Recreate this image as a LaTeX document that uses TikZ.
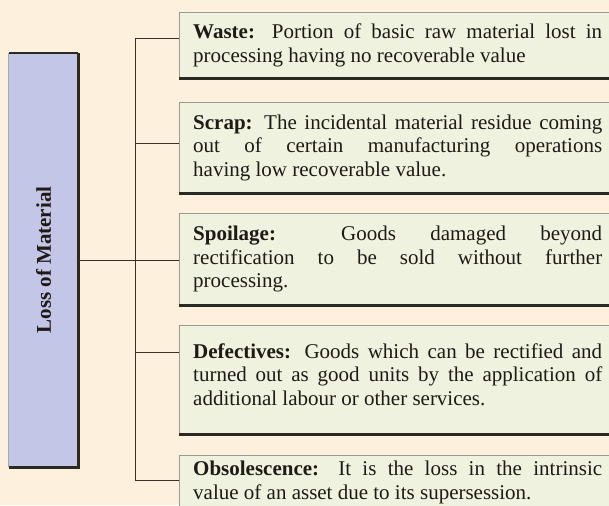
\documentclass[tikz,border=0pt]{standalone}
\usepackage{graphicx}
\usepackage{fontspec}
\setmainfont{Liberation Serif}
\definecolor{paper}{HTML}{FDF1DE}
\definecolor{lav}{HTML}{C4C6E7}
\definecolor{cardfill}{HTML}{EEF2DF}
\definecolor{wire}{HTML}{3A2E26}
\definecolor{rim}{HTML}{9A9A90}
\definecolor{shadowline}{HTML}{2A2A22}
\definecolor{ink}{HTML}{1E1A16}
\tikzset{
  card/.style={rectangle, fill=cardfill, anchor=north west, inner xsep=14pt,
    inner ysep=0pt, text width=409pt, align=justify, text=ink,
    font=\fontsize{21}{23.5}\selectfont},
  cardrim/.style={draw=rim, line width=0.8pt},
  cardbase/.style={draw=shadowline, line width=3pt},
  wirestyle/.style={draw=wire, line width=0.9pt},
}
\begin{document}
\begin{tikzpicture}[x=1pt,y=-1pt]
\useasboundingbox (0,0) rectangle (609,505);
\clip (0,0) rectangle (609,505);
\fill[paper] (0,0) rectangle (609,505);

% category column
\node[rectangle, fill=lav, minimum width=69pt, minimum height=414pt, inner sep=0pt, text=ink]
  (main) at (43.5,260)
  {\rotatebox{90}{\fontsize{21}{23}\selectfont\bfseries Loss of Material}};
\draw[draw=rim!70!lav, line width=0.8pt] (main.south west) -- (main.north west);
\draw[draw=shadowline, line width=1.6pt] (main.north west) -- (main.north east);
\draw[draw=shadowline, line width=3pt] (main.north east) -- (main.south east) -- (main.south west);

% definition cards
\node[card, minimum height=66pt] (waste) at (179,12)
  {\textbf{Waste:} Portion of basic raw material lost in\linebreak
   processing having no recoverable value};
\node[card, minimum height=91pt] (scrap) at (179,102)
  {\textbf{Scrap:} The incidental material residue coming\linebreak
   out of certain manufacturing operations\linebreak
   having low recoverable value.};
\node[card, minimum height=92pt] (spoil) at (179,213)
  {\textbf{Spoilage:} Goods damaged beyond\linebreak
   rectification to be sold without further\linebreak
   processing.};
\node[card, minimum height=109pt] (defect) at (179,325)
  {\textbf{Defectives:} Goods which can be rectified and\linebreak
   turned out as good units by the application of\linebreak
   additional labour or other services.\par\vspace*{10pt}};
\node[card, minimum height=70pt] (obsol) at (179,455)
  {\textbf{Obsolescence:} It is the loss in the intrinsic\linebreak
   value of an asset due to its supersession.\par\vspace*{16pt}};

\foreach \c in {waste,scrap,spoil,defect,obsol}{
  \draw[cardrim] (\c.south west) -- (\c.north west) -- (\c.north east);
  \draw[cardbase] (\c.south west) -- (\c.south east);
}

% connectors
\coordinate (bw) at (135,38);
\coordinate (bs) at (135,143);
\coordinate (bd) at (135,352);
\coordinate (bo) at (135,480);
\draw[wirestyle] (bw) -- (bo);
\draw[wirestyle] (main.east) -- (main.east -| spoil.west);
\draw[wirestyle] (bw) -- (bw -| waste.west);
\draw[wirestyle] (bs) -- (bs -| scrap.west);
\draw[wirestyle] (bd) -- (bd -| defect.west);
\draw[wirestyle] (bo) -- (bo -| obsol.west);
\end{tikzpicture}
\end{document}
